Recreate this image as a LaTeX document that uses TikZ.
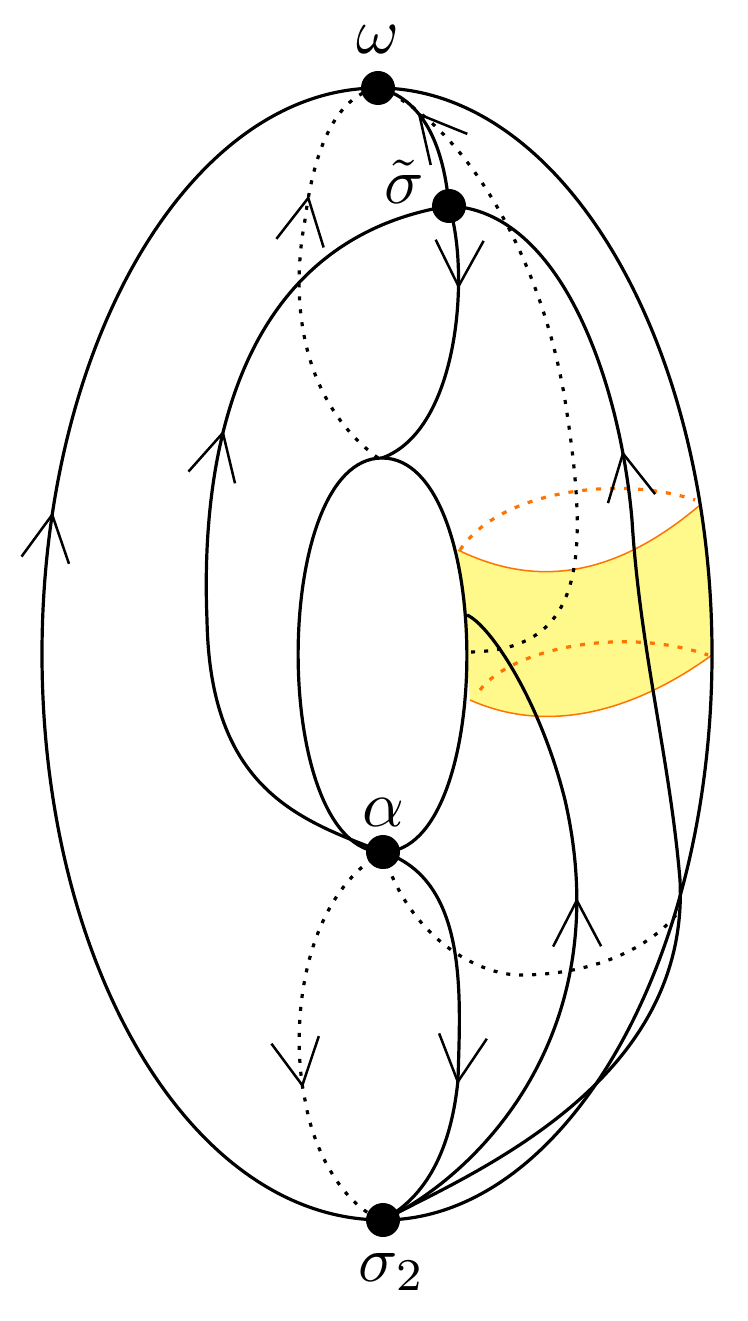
\documentclass[tikz,border=0pt]{standalone}
\usetikzlibrary{arrows.meta,decorations.markings}
\begin{document}
\begin{tikzpicture}[x=1pt,y=-1pt,
 ln/.style={line width=3.2pt,black},
 dt/.style={line width=3.2pt,black,dash pattern=on 4pt off 9pt},
 od/.style={line width=3.2pt,orange!90!red,dash pattern=on 5pt off 9pt},
 ar/.style={decoration={markings,mark=at position #1 with {\arrow{Straight Barb[length=46pt,width=48pt,line width=2.5pt]}}},postaction=decorate},
 pt/.style={circle,fill=black,inner sep=0pt,minimum size=34pt}]
\useasboundingbox (0,0) rectangle (747,1321);
% yellow band
\fill[yellow!45] (458,550) .. controls (520,580) and (600,590) .. (700,505)
  .. controls (708,560) and (712,610) .. (712,655)
  .. controls (650,700) and (560,740) .. (470,700) -- cycle;
\draw[orange!90!red,line width=1.5pt] (458,550) .. controls (520,580) and (600,590) .. (700,505);
\draw[orange!90!red,line width=1.5pt] (470,700) .. controls (560,740) and (650,700) .. (712,655);
\draw[od] (460,550) .. controls (500,490) and (620,475) .. (695,500);
\draw[od] (480,690) .. controls (510,650) and (620,625) .. (708,655);
% nodes
\node[pt] (w) at (378,88) {};
\node[pt] (s) at (449,206) {};
\node[pt] (a) at (383,852) {};
\node[pt] (z) at (383,1220) {};
\node (lw) at (378,40) {\scalebox{6.5}{$\omega$}};
\node (ls) at (404,182) {\scalebox{6.5}{$\tilde\sigma$}};
\node (la) at (383,812) {\scalebox{6.5}{$\alpha$}};
\node (lz) at (392,1272) {\scalebox{6.5}{$\sigma_2$}};
% outer and hole
\draw[ln,ar=0.6] (z.center) .. controls (192,1220) and (42,967) .. (42,654)
  .. controls (42,341) and (192,88) .. (w.center);
\draw[ln] (w.center) .. controls (562,88) and (712,341) .. (712,654)
  .. controls (712,967) and (562,1220) .. (z.center);
\draw[ln] (382,458) .. controls (270,458) and (270,852) .. (a.center)
  .. controls (495,852) and (495,458) .. (382,458);
% inner loop
\draw[ln,ar=0.6] (a.center) .. controls (300,820) and (210,790) .. (207,620)
  .. controls (200,450) and (240,240) .. (s.center);
\draw[ln,ar=0.3] (s.center) .. controls (470,270) and (460,430) .. (382,458);
\draw[ln,ar=0.68] (s.center) .. controls (445,160) and (430,100) .. (w.center);
% right curves
\draw[ln,ar=0.74] (z.center) .. controls (480,1170) and (690,1080) .. (680,880)
  .. controls (670,760) and (640,650) .. (632,520)
  .. controls (620,380) and (560,210) .. (s.center);
\draw[ln,ar=0.56] (z.center) .. controls (470,1180) and (620,1040) .. (565,800)
  .. controls (540,700) and (490,625) .. (467,615);
\draw[ln,ar=0.62] (a.center) .. controls (470,880) and (460,1000) .. (458,1080)
  .. controls (450,1160) and (420,1200) .. (z.center);
% dotted
\draw[dt,ar=0.62] (a.center) .. controls (300,900) and (290,1030) .. (305,1100)
  .. controls (315,1160) and (350,1210) .. (z.center);
\draw[dt] (a.center) .. controls (410,940) and (480,975) .. (520,975)
  .. controls (590,975) and (650,950) .. (680,910);
\draw[dt,ar=0.68] (378,458) .. controls (300,400) and (290,300) .. (305,220)
  .. controls (315,140) and (340,95) .. (w.center);
\draw[dt] (w.center) .. controls (460,120) and (540,250) .. (565,400)
  .. controls (590,560) and (585,650) .. (470,652);
\end{tikzpicture}
\end{document}
